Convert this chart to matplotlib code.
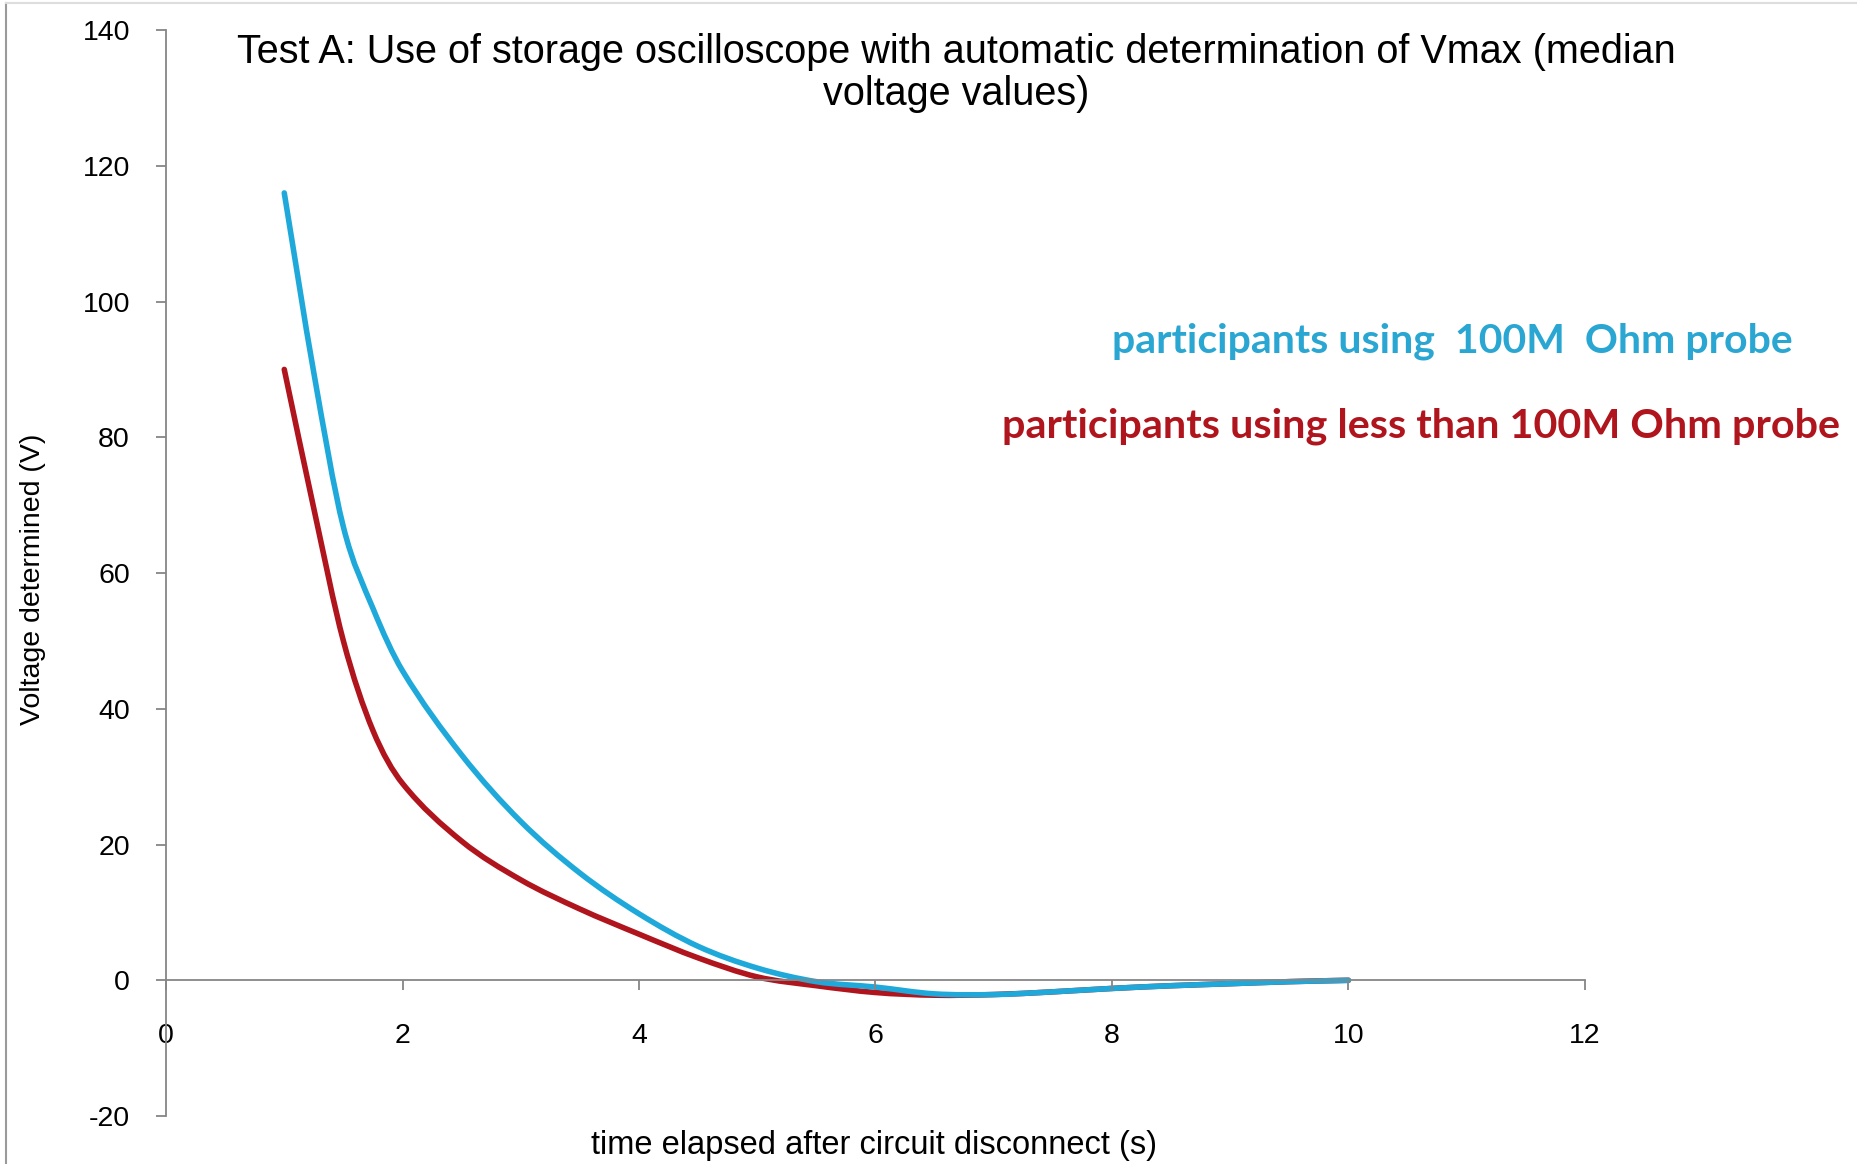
import matplotlib
matplotlib.use("Agg")
import matplotlib.pyplot as plt
import numpy as np
from matplotlib.lines import Line2D
from matplotlib.path import Path
from matplotlib.patches import PathPatch

# values (median voltages)
time_s = [1.0, 1.25, 1.5, 1.75, 2.0, 2.5, 3.0, 3.5, 4.0, 4.5, 5.0, 5.5,
          6.0, 6.5, 7.0, 7.5, 8.0, 8.5, 9.0, 9.5, 10.0]
v_100m = [116.0, 89.5, 66.8, 54.8, 45.6, 33.2, 23.4, 15.8, 9.8, 5.0, 1.8, -0.2,
          -1.0, -2.0, -2.1, -1.7, -1.2, -0.8, -0.5, -0.2, 0.0]
v_less = [90.0, 69.5, 50.0, 36.8, 29.0, 20.5, 14.8, 10.5, 6.8, 3.3, 0.5, -0.8,
          -1.8, -2.2, -2.1, -1.7, -1.2, -0.8, -0.5, -0.2, 0.0]

x_ticks = [0, 2, 4, 6, 8, 10, 12]
y_ticks = [-20, 0, 20, 40, 60, 80, 100, 120, 140]

title = ("Test A: Use of storage oscilloscope with automatic determination of Vmax (median\n"
         "voltage values)")
label_100m = "participants using  100M  Ohm probe"
label_less = "participants using less than 100M Ohm probe"

BLUE = "#1ea9da"
RED = "#b0141c"
AXIS_GREY = "#868686"


def smooth_path(xs, ys):
    # smoothed line like Excel: cubic Bezier (Hermite) segments through the points
    x = np.asarray(xs, float)
    y = np.asarray(ys, float)
    n = len(x)
    m = np.empty(n)
    m[0] = (y[1] - y[0]) / (x[1] - x[0])
    m[-1] = (y[-1] - y[-2]) / (x[-1] - x[-2])
    m[1:-1] = (y[2:] - y[:-2]) / (x[2:] - x[:-2])
    verts = [(x[0], y[0])]
    codes = [Path.MOVETO]
    for i in range(n - 1):
        h = x[i + 1] - x[i]
        verts += [(x[i] + h / 3, y[i] + m[i] * h / 3),
                  (x[i + 1] - h / 3, y[i + 1] - m[i + 1] * h / 3),
                  (x[i + 1], y[i + 1])]
        codes += [Path.CURVE4] * 3
    return Path(verts, codes)


plt.rcParams['font.family'] = ['Liberation Sans', 'DejaVu Sans']
plt.rcParams['axes.unicode_minus'] = False

fig = plt.figure(figsize=(18.57, 11.64), dpi=100)
ax = fig.add_axes([0.0894, 0.0412, 0.7641, 0.9330])

for ys, col in ((v_less, RED), (v_100m, BLUE)):
    ax.add_patch(PathPatch(smooth_path(time_s, ys), fill=False, edgecolor=col, lw=4.0,
                           capstyle='round', joinstyle='round'))

ax.set_xlim(0, 12)
ax.set_ylim(-20, 140)
ax.set_xticks(x_ticks)
ax.set_yticks(y_ticks)

ax.spines['top'].set_visible(False)
ax.spines['right'].set_visible(False)
ax.spines['bottom'].set_position(('data', 0))
for s in ('left', 'bottom'):
    ax.spines[s].set_color(AXIS_GREY)
    ax.spines[s].set_linewidth(1.3)

ax.tick_params(axis='both', colors=AXIS_GREY, labelcolor='black', length=7, width=1.3,
               direction='out', labelsize=20.5)
ax.tick_params(axis='x', pad=24)
ax.tick_params(axis='y', pad=19)

fig.text(0.515, 0.9375, title, ha='center', va='center', fontsize=28.5, linespacing=1.12)
fig.text(0.018, 0.502, "Voltage determined (V)", rotation=90, ha='center', va='center',
         fontsize=20.5)
fig.text(0.4706, 0.0163, "time elapsed after circuit disconnect (s)", ha='center', va='center',
         fontsize=23.5)

fig.text(0.599, 0.707, label_100m, color="#2aa6d2", fontsize=29.5, fontweight='bold',
         family=['Lato', 'DejaVu Sans'], ha='left', va='center')
fig.text(0.5395, 0.634, label_less, color=RED, fontsize=29.8, fontweight='bold',
         family=['Lato', 'DejaVu Sans'], ha='left', va='center')

# chart area border (only left and top edges visible in the crop)
fig.add_artist(Line2D([0.003, 0.003], [0, 0.997], transform=fig.transFigure,
                      color="#9a9a9a", lw=1.5))
fig.add_artist(Line2D([0.003, 1], [0.997, 0.997], transform=fig.transFigure,
                      color="#dddddd", lw=1.5))

fig.savefig("out.png", dpi=100)
